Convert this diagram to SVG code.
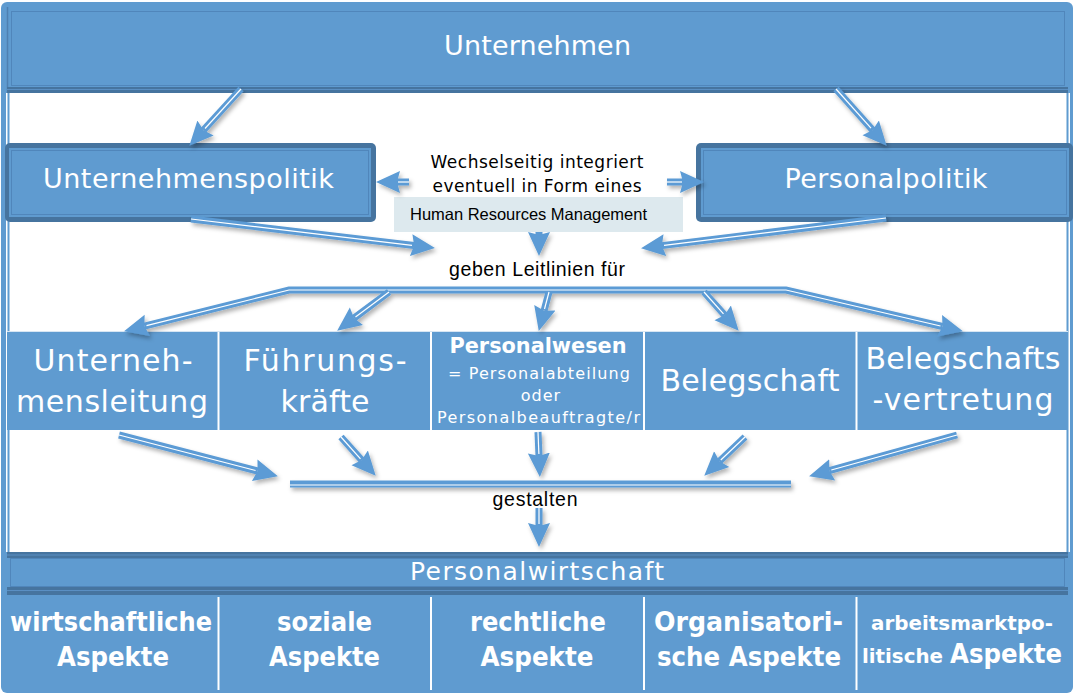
<svg xmlns="http://www.w3.org/2000/svg" width="1075" height="695" viewBox="0 0 1075 695">
<style>
.bl{fill:#5f9bd0}
.dk{fill:#46749f}
.wt{fill:#fff;font-family:"DejaVu Sans",sans-serif;text-anchor:middle}
.wb{fill:#fff;font-family:"DejaVu Sans",sans-serif;font-weight:bold;text-anchor:middle}
.bk{fill:#000;font-family:"DejaVu Sans",sans-serif;text-anchor:middle}
.ar{fill:#000;font-family:"Liberation Sans",Arial,sans-serif;text-anchor:middle}
.sh{fill:none;stroke:#5b9bd5;stroke-width:7}
.sw{fill:none;stroke:#fff;stroke-width:1.2}
.sep{stroke:#fff;stroke-width:2}
</style>
<defs>
<marker id="ah" markerUnits="userSpaceOnUse" markerWidth="28" markerHeight="28" refX="3" refY="14" orient="auto-start-reverse">
<path d="M0,3 L24,14 L0,25 L3,14 Z" fill="#5b9bd5"/>
</marker>
<filter id="ds" x="-20%" y="-20%" width="140%" height="160%">
<feDropShadow dx="2" dy="3" stdDeviation="2" flood-color="#000" flood-opacity="0.3"/>
</filter>
</defs>

<!-- frame -->
<rect x="1" y="2" width="1072" height="691" rx="6" class="bl"/>
<rect x="6" y="93" width="1064" height="459" fill="#fff"/>
<rect x="7.5" y="93" width="2" height="459" class="bl"/>
<rect x="1066.5" y="93" width="2" height="459" class="bl"/>

<g id="unternehmen">
<rect x="7" y="7" width="1061" height="86" class="bl"/>
<line x1="7.5" y1="7" x2="7.5" y2="93" stroke="#4e80b2" stroke-width="1.5"/>
<rect x="11.5" y="11.5" width="1053" height="74" fill="none" stroke="#5086bb" stroke-width="1"/>
<rect x="7" y="87" width="1061" height="6" class="dk"/>
<line x1="7" y1="89.5" x2="1068" y2="89.5" stroke="#5a8fc3" stroke-width="1"/>
<text x="537.5" y="55" class="wt" font-size="27" textLength="187" lengthAdjust="spacing">Unternehmen</text>
</g>

<g id="unternehmenspolitik">
<rect x="5" y="143" width="371" height="79" rx="5" class="dk"/>
<rect x="9" y="148" width="362" height="69" class="bl"/>
<rect x="11.5" y="150.5" width="357" height="64" fill="none" stroke="#5086bb" stroke-width="1"/>
<text x="188.5" y="188" class="wt" font-size="27" textLength="291" lengthAdjust="spacing">Unternehmenspolitik</text>
</g>

<g id="personalpolitik">
<rect x="696" y="143" width="377" height="79" rx="5" class="dk"/>
<rect x="701" y="148" width="368" height="69" class="bl"/>
<rect x="703.5" y="150.5" width="363" height="64" fill="none" stroke="#5086bb" stroke-width="1"/>
<text x="886" y="188" class="wt" font-size="27" textLength="203" lengthAdjust="spacing">Personalpolitik</text>
</g>

<g id="wechselseitig">
<text x="537" y="168" class="bk" font-size="17" textLength="213" lengthAdjust="spacing">Wechselseitig integriert</text>
<text x="537" y="192" class="bk" font-size="17" textLength="209" lengthAdjust="spacing">eventuell in Form eines</text>
</g>

<g id="hrm">
<rect x="394" y="197" width="289" height="35" fill="#dde9ee"/>
<text x="528.5" y="220" class="ar" font-size="16.5" textLength="237" lengthAdjust="spacing">Human Resources Management</text>
</g>

<g id="leitlinien">
<text x="537" y="276" class="ar" font-size="19.5" textLength="176" lengthAdjust="spacing">geben Leitlinien für</text>
</g>

<g id="row">
<rect x="7" y="332" width="1061" height="98" class="bl"/>
<line x1="218.5" y1="332" x2="218.5" y2="430" class="sep"/>
<line x1="431" y1="332" x2="431" y2="430" class="sep"/>
<line x1="644" y1="332" x2="644" y2="430" class="sep"/>
<line x1="856.5" y1="332" x2="856.5" y2="430" class="sep"/>
<line x1="7" y1="331.5" x2="1068" y2="331.5" stroke="#d7e6f3" stroke-width="1"/>
</g>
<g id="unternehmensleitung">
<text x="113" y="371" class="wt" font-size="30" textLength="159" lengthAdjust="spacing">Unterneh-</text>
<text x="112" y="412" class="wt" font-size="30" textLength="192" lengthAdjust="spacing">mensleitung</text>
</g>
<g id="fuehrungskraefte">
<text x="325" y="371" class="wt" font-size="30" textLength="163" lengthAdjust="spacing">Führungs-</text>
<text x="325" y="412" class="wt" font-size="30" textLength="89" lengthAdjust="spacing">kräfte</text>
</g>
<g id="personalwesen">
<text x="538" y="353" class="wb" font-size="21" textLength="177" lengthAdjust="spacingAndGlyphs">Personalwesen</text>
<text x="539" y="379" class="wt" font-size="16" textLength="182" lengthAdjust="spacing">= Personalabteilung</text>
<text x="541" y="401" class="wt" font-size="16" letter-spacing="1">oder</text>
<text x="538.5" y="423" class="wt" font-size="16" textLength="203" lengthAdjust="spacing">Personalbeauftragte/r</text>
</g>
<g id="belegschaft">
<text x="750" y="391" class="wt" font-size="30" textLength="179" lengthAdjust="spacing">Belegschaft</text>
</g>
<g id="belegschaftsvertretung">
<text x="963" y="369" class="wt" font-size="30" textLength="195" lengthAdjust="spacing">Belegschafts</text>
<text x="963" y="410" class="wt" font-size="30" textLength="181" lengthAdjust="spacing">-vertretung</text>
</g>

<g id="gestalten">
<text x="535" y="506" class="ar" font-size="19.5" textLength="85" lengthAdjust="spacing">gestalten</text>
</g>

<g id="personalwirtschaft">
<rect x="7" y="552" width="1061" height="43" class="bl"/>
<rect x="7" y="552" width="1061" height="6" class="dk"/>
<rect x="7" y="587" width="1061" height="8" class="dk"/>
<line x1="7" y1="555" x2="1068" y2="555" stroke="#5a8fc3" stroke-width="1"/>
<line x1="7" y1="590.5" x2="1068" y2="590.5" stroke="#5a8fc3" stroke-width="1"/>
<rect x="10.5" y="558.5" width="1054" height="28" fill="none" stroke="#5086bb" stroke-width="1"/>
<text x="537" y="580" class="wt" font-size="25" textLength="254" lengthAdjust="spacing">Personalwirtschaft</text>
</g>

<g id="aspekte">
<line x1="218.5" y1="597" x2="218.5" y2="690" class="sep"/>
<line x1="431" y1="597" x2="431" y2="690" class="sep"/>
<line x1="644" y1="597" x2="644" y2="690" class="sep"/>
<line x1="856.5" y1="597" x2="856.5" y2="690" class="sep"/>
</g>
<g id="wirtschaftliche">
<text x="111" y="631" class="wb" font-size="27" textLength="202" lengthAdjust="spacingAndGlyphs">wirtschaftliche</text>
<text x="113" y="666" class="wb" font-size="27" textLength="112" lengthAdjust="spacingAndGlyphs">Aspekte</text>
</g>
<g id="soziale">
<text x="324.5" y="631" class="wb" font-size="27" textLength="95" lengthAdjust="spacingAndGlyphs">soziale</text>
<text x="324.5" y="666" class="wb" font-size="27" textLength="111" lengthAdjust="spacingAndGlyphs">Aspekte</text>
</g>
<g id="rechtliche">
<text x="538" y="631" class="wb" font-size="27" textLength="136" lengthAdjust="spacingAndGlyphs">rechtliche</text>
<text x="537" y="666" class="wb" font-size="27" textLength="113" lengthAdjust="spacingAndGlyphs">Aspekte</text>
</g>
<g id="organisatorische">
<text x="748.5" y="631" class="wb" font-size="27" textLength="189" lengthAdjust="spacingAndGlyphs">Organisatori-</text>
<text x="749" y="666" class="wb" font-size="27" textLength="184" lengthAdjust="spacingAndGlyphs">sche Aspekte</text>
</g>
<g id="arbeitsmarktpolitische">
<text x="962" y="630" class="wb" font-size="20" textLength="182" lengthAdjust="spacingAndGlyphs">arbeitsmarktpo-</text>
<text x="902.5" y="663" class="wb" font-size="20" textLength="81" lengthAdjust="spacingAndGlyphs">litische</text>
<text x="1006" y="663" class="wb" font-size="27" textLength="112" lengthAdjust="spacingAndGlyphs">Aspekte</text>
</g>

<g id="connectors" filter="url(#ds)">
<path class="sh" marker-end="url(#ah)" d="M241,89 L203.5,130.2"/>
<path class="sw" d="M241,89 L205,128.5"/>
<path class="sh" marker-end="url(#ah)" d="M836,89 L872.7,130.1"/>
<path class="sw" d="M836,89 L871,128.2"/>
<path class="sh" marker-end="url(#ah)" d="M409,182 L397,182"/>
<path class="sw" d="M409,182 L398,182"/>
<path class="sh" marker-end="url(#ah)" d="M667,182 L683,182"/>
<path class="sw" d="M667,182 L682,182"/>
<path class="sh" marker-end="url(#ah)" d="M191,219 L414.1,245.6"/>
<path class="sw" d="M191,219 L412,245.3"/>
<path class="sh" marker-end="url(#ah)" d="M886,218 L661.9,245.6"/>
<path class="sw" d="M886,218 L664,245.3"/>
<path class="sh" marker-end="url(#ah)" d="M539,232 L539,235"/>
<path class="sh" marker-start="url(#ah)" marker-end="url(#ah)" d="M144.4,326.1 L289,290 L786,290 L942.5,326.5"/>
<path class="sw" d="M146.5,325.6 L289,290 L786,290 L940.5,326"/>
<path class="sh" marker-end="url(#ah)" d="M389,292 L354,318.1"/>
<path class="sw" d="M389,292 L355.5,317"/>
<path class="sh" marker-end="url(#ah)" d="M549,292 L544.1,310.7"/>
<path class="sw" d="M549,292 L544.5,309"/>
<path class="sh" marker-end="url(#ah)" d="M704,292 L724.7,315.1"/>
<path class="sw" d="M704,292 L723.5,313.8"/>
<path class="sh" marker-end="url(#ah)" d="M119,435 L257.6,471"/>
<path class="sw" d="M119,435 L255.6,470.5"/>
<path class="sh" marker-end="url(#ah)" d="M341,437 L361.7,460.1"/>
<path class="sw" d="M341,437 L360.5,458.8"/>
<path class="sh" marker-end="url(#ah)" d="M538,432 L539,456"/>
<path class="sw" d="M538,432 L538.9,454"/>
<path class="sh" marker-end="url(#ah)" d="M745,437 L719.5,461.2"/>
<path class="sw" d="M745,437 L720.8,460"/>
<path class="sh" marker-end="url(#ah)" d="M957,435 L829.3,470.6"/>
<path class="sw" d="M957,435 L831.3,470"/>
<path class="sh" d="M290,484 L791,484"/>
<path class="sw" d="M290,485 L791,485"/>
<path class="sh" marker-end="url(#ah)" d="M539,508 L539,526"/>
<path class="sw" d="M539,508 L539,524"/>
</g>
</svg>
